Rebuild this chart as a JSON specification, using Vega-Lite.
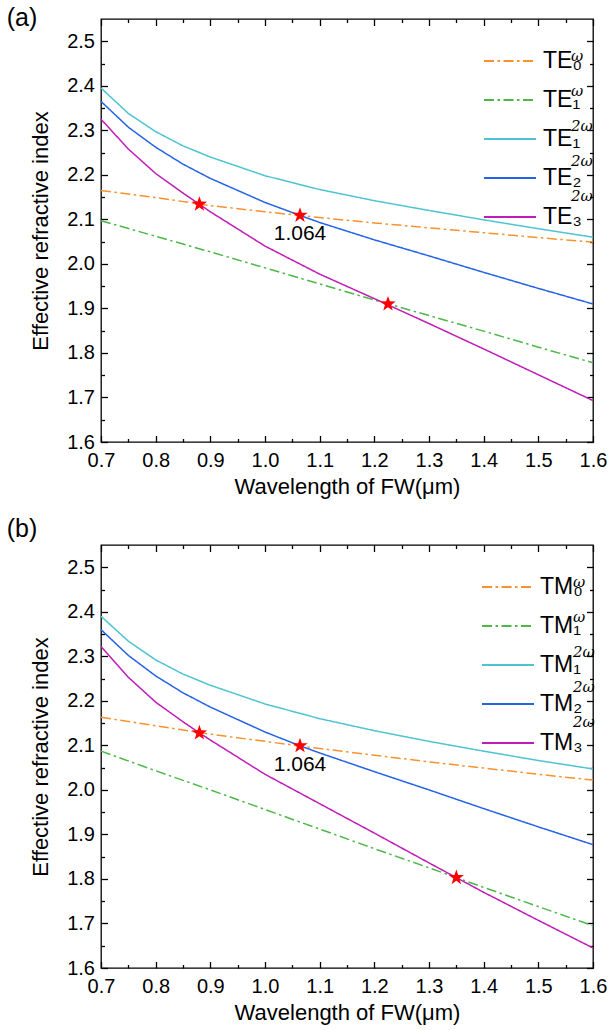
{
  "$schema": "https://vega.github.io/schema/vega-lite/v6.json",
  "padding": {"left": 5, "top": 4, "right": 5, "bottom": 0},
  "datasets": {
    "te": [
      {"series": "TE0w", "lam": 0.7, "n": 2.165}, {"series": "TE0w", "lam": 0.8, "n": 2.149}, {"series": "TE0w", "lam": 0.9, "n": 2.131}, {"series": "TE0w", "lam": 1.0, "n": 2.117}, {"series": "TE0w", "lam": 1.1, "n": 2.104}, {"series": "TE0w", "lam": 1.2, "n": 2.092}, {"series": "TE0w", "lam": 1.3, "n": 2.081}, {"series": "TE0w", "lam": 1.4, "n": 2.070}, {"series": "TE0w", "lam": 1.5, "n": 2.059}, {"series": "TE0w", "lam": 1.6, "n": 2.049},
      {"series": "TE1w", "lam": 0.7, "n": 2.097}, {"series": "TE1w", "lam": 0.8, "n": 2.062}, {"series": "TE1w", "lam": 0.9, "n": 2.027}, {"series": "TE1w", "lam": 1.0, "n": 1.991}, {"series": "TE1w", "lam": 1.1, "n": 1.955}, {"series": "TE1w", "lam": 1.2, "n": 1.919}, {"series": "TE1w", "lam": 1.3, "n": 1.884}, {"series": "TE1w", "lam": 1.4, "n": 1.849}, {"series": "TE1w", "lam": 1.5, "n": 1.813}, {"series": "TE1w", "lam": 1.6, "n": 1.778},
      {"series": "TE1_2w", "lam": 0.7, "n": 2.395}, {"series": "TE1_2w", "lam": 0.75, "n": 2.338}, {"series": "TE1_2w", "lam": 0.8, "n": 2.297}, {"series": "TE1_2w", "lam": 0.85, "n": 2.265}, {"series": "TE1_2w", "lam": 0.9, "n": 2.240}, {"series": "TE1_2w", "lam": 1.0, "n": 2.198}, {"series": "TE1_2w", "lam": 1.1, "n": 2.167}, {"series": "TE1_2w", "lam": 1.2, "n": 2.142}, {"series": "TE1_2w", "lam": 1.3, "n": 2.120}, {"series": "TE1_2w", "lam": 1.4, "n": 2.099}, {"series": "TE1_2w", "lam": 1.5, "n": 2.079}, {"series": "TE1_2w", "lam": 1.6, "n": 2.060},
      {"series": "TE2_2w", "lam": 0.7, "n": 2.365}, {"series": "TE2_2w", "lam": 0.75, "n": 2.307}, {"series": "TE2_2w", "lam": 0.8, "n": 2.262}, {"series": "TE2_2w", "lam": 0.85, "n": 2.224}, {"series": "TE2_2w", "lam": 0.9, "n": 2.192}, {"series": "TE2_2w", "lam": 1.0, "n": 2.138}, {"series": "TE2_2w", "lam": 1.064, "n": 2.109}, {"series": "TE2_2w", "lam": 1.1, "n": 2.093}, {"series": "TE2_2w", "lam": 1.2, "n": 2.054}, {"series": "TE2_2w", "lam": 1.3, "n": 2.018}, {"series": "TE2_2w", "lam": 1.4, "n": 1.981}, {"series": "TE2_2w", "lam": 1.5, "n": 1.945}, {"series": "TE2_2w", "lam": 1.6, "n": 1.910},
      {"series": "TE3_2w", "lam": 0.7, "n": 2.325}, {"series": "TE3_2w", "lam": 0.75, "n": 2.258}, {"series": "TE3_2w", "lam": 0.8, "n": 2.203}, {"series": "TE3_2w", "lam": 0.85, "n": 2.159}, {"series": "TE3_2w", "lam": 0.88, "n": 2.134}, {"series": "TE3_2w", "lam": 0.9, "n": 2.117}, {"series": "TE3_2w", "lam": 1.0, "n": 2.040}, {"series": "TE3_2w", "lam": 1.1, "n": 1.977}, {"series": "TE3_2w", "lam": 1.2, "n": 1.922}, {"series": "TE3_2w", "lam": 1.3, "n": 1.866}, {"series": "TE3_2w", "lam": 1.4, "n": 1.809}, {"series": "TE3_2w", "lam": 1.5, "n": 1.751}, {"series": "TE3_2w", "lam": 1.6, "n": 1.693}
    ],
    "tm": [
      {"series": "TM0w", "lam": 0.7, "n": 2.163}, {"series": "TM0w", "lam": 0.8, "n": 2.144}, {"series": "TM0w", "lam": 0.9, "n": 2.125}, {"series": "TM0w", "lam": 1.0, "n": 2.109}, {"series": "TM0w", "lam": 1.1, "n": 2.093}, {"series": "TM0w", "lam": 1.2, "n": 2.078}, {"series": "TM0w", "lam": 1.3, "n": 2.063}, {"series": "TM0w", "lam": 1.4, "n": 2.049}, {"series": "TM0w", "lam": 1.5, "n": 2.035}, {"series": "TM0w", "lam": 1.6, "n": 2.022},
      {"series": "TM1w", "lam": 0.7, "n": 2.087}, {"series": "TM1w", "lam": 0.8, "n": 2.043}, {"series": "TM1w", "lam": 0.9, "n": 2.000}, {"series": "TM1w", "lam": 1.0, "n": 1.956}, {"series": "TM1w", "lam": 1.1, "n": 1.912}, {"series": "TM1w", "lam": 1.2, "n": 1.868}, {"series": "TM1w", "lam": 1.3, "n": 1.825}, {"series": "TM1w", "lam": 1.4, "n": 1.781}, {"series": "TM1w", "lam": 1.5, "n": 1.738}, {"series": "TM1w", "lam": 1.6, "n": 1.695},
      {"series": "TM1_2w", "lam": 0.7, "n": 2.390}, {"series": "TM1_2w", "lam": 0.75, "n": 2.334}, {"series": "TM1_2w", "lam": 0.8, "n": 2.292}, {"series": "TM1_2w", "lam": 0.85, "n": 2.260}, {"series": "TM1_2w", "lam": 0.9, "n": 2.235}, {"series": "TM1_2w", "lam": 1.0, "n": 2.193}, {"series": "TM1_2w", "lam": 1.1, "n": 2.160}, {"series": "TM1_2w", "lam": 1.2, "n": 2.133}, {"series": "TM1_2w", "lam": 1.3, "n": 2.109}, {"series": "TM1_2w", "lam": 1.4, "n": 2.087}, {"series": "TM1_2w", "lam": 1.5, "n": 2.066}, {"series": "TM1_2w", "lam": 1.6, "n": 2.047},
      {"series": "TM2_2w", "lam": 0.7, "n": 2.360}, {"series": "TM2_2w", "lam": 0.75, "n": 2.302}, {"series": "TM2_2w", "lam": 0.8, "n": 2.256}, {"series": "TM2_2w", "lam": 0.85, "n": 2.218}, {"series": "TM2_2w", "lam": 0.9, "n": 2.186}, {"series": "TM2_2w", "lam": 1.0, "n": 2.130}, {"series": "TM2_2w", "lam": 1.064, "n": 2.099}, {"series": "TM2_2w", "lam": 1.1, "n": 2.083}, {"series": "TM2_2w", "lam": 1.2, "n": 2.041}, {"series": "TM2_2w", "lam": 1.3, "n": 2.000}, {"series": "TM2_2w", "lam": 1.4, "n": 1.958}, {"series": "TM2_2w", "lam": 1.5, "n": 1.917}, {"series": "TM2_2w", "lam": 1.6, "n": 1.877},
      {"series": "TM3_2w", "lam": 0.7, "n": 2.322}, {"series": "TM3_2w", "lam": 0.75, "n": 2.253}, {"series": "TM3_2w", "lam": 0.8, "n": 2.197}, {"series": "TM3_2w", "lam": 0.85, "n": 2.153}, {"series": "TM3_2w", "lam": 0.88, "n": 2.128}, {"series": "TM3_2w", "lam": 0.9, "n": 2.112}, {"series": "TM3_2w", "lam": 1.0, "n": 2.035}, {"series": "TM3_2w", "lam": 1.1, "n": 1.969}, {"series": "TM3_2w", "lam": 1.2, "n": 1.903}, {"series": "TM3_2w", "lam": 1.3, "n": 1.836}, {"series": "TM3_2w", "lam": 1.35, "n": 1.803}, {"series": "TM3_2w", "lam": 1.4, "n": 1.770}, {"series": "TM3_2w", "lam": 1.5, "n": 1.707}, {"series": "TM3_2w", "lam": 1.6, "n": 1.645}
    ],
    "te_s": [
      {"lam": 0.88, "n": 2.134, "label": ""},
      {"lam": 1.064, "n": 2.109, "label": "1.064"},
      {"lam": 1.225, "n": 1.910, "label": ""}
    ],
    "tm_s": [
      {"lam": 0.88, "n": 2.128, "label": ""},
      {"lam": 1.064, "n": 2.099, "label": "1.064"},
      {"lam": 1.35, "n": 1.803, "label": ""}
    ]
  },
  "spacing": 16,
  "resolve": {
    "scale": {"color": "independent", "strokeDash": "independent", "opacity": "independent"},
    "legend": {"color": "independent", "strokeDash": "independent", "opacity": "independent"}
  },
  "vconcat": [
    {
      "width": 492, "height": 423,
      "resolve": {"axis": {"x": "independent", "y": "independent"}},
      "layer": [
        {
          "data": {"name": "te"},
          "transform": [{"filter": "indexof(datum.series, '_2w') < 0"}, {"calculate": "datum.series + '_s'", "as": "sup"}],
          "mark": {"type": "line", "strokeWidth": 1.5},
          "encoding": {
            "x": {"field": "lam", "type": "quantitative", "scale": {"domain": [0.7, 1.6], "nice": false, "zero": false},
                  "axis": {"orient": "bottom", "values": [0.7, 0.8, 0.9, 1.0, 1.1, 1.2, 1.3, 1.4, 1.5, 1.6], "format": ".1f", "labelFlush": false, "tickSize": -6.5, "labelPadding": 15, "title": "Wavelength of FW(μm)", "titlePadding": 6}},
            "y": {"field": "n", "type": "quantitative", "scale": {"domain": [1.6, 2.55], "nice": false, "zero": false},
                  "axis": {"orient": "left", "values": [1.6, 1.7, 1.8, 1.9, 2.0, 2.1, 2.2, 2.3, 2.4, 2.5], "format": ".1f", "labelFlush": false, "tickSize": -6.5, "labelPadding": 13, "title": "Effective refractive index", "titlePadding": 14}},
            "color": {"field": "series", "type": "nominal",
                      "scale": {"domain": ["TE0w", "TE1w", "TE1_2w", "TE2_2w", "TE3_2w"], "range": ["#F7922F", "#4DB848", "#4EC3D2", "#2563E6", "#C11CB6"]},
                      "legend": {"orient": "none", "legendX": 382, "legendY": 15, "title": null, "padding": 0, "symbolType": "stroke", "symbolSize": 2704, "symbolStrokeWidth": 2, "labelFontSize": 23, "labelFont": "Liberation Sans", "labelOffset": 6, "rowPadding": -15.7,
                                 "labelExpr": "datum.label == 'TE0w' ? 'TE₀' : datum.label == 'TE2_2w' ? 'TE₂' : datum.label == 'TE3_2w' ? 'TE₃' : 'TE₁'"}},
            "strokeDash": {"field": "series", "type": "nominal",
                           "scale": {"domain": ["TE0w", "TE1w", "TE1_2w", "TE2_2w", "TE3_2w"], "range": [[10, 3.5, 2.5, 3.5], [10, 3.5, 2.5, 3.5], [1, 0], [1, 0], [1, 0]]}},
            "opacity": {"field": "sup", "type": "nominal",
                        "scale": {"domain": ["TE0w_s", "TE1w_s", "TE1_2w_s", "TE2_2w_s", "TE3_2w_s"], "range": [1, 1]},
                        "legend": {"orient": "none", "legendX": 412, "legendY": 10, "title": null, "padding": 0, "symbolType": "stroke", "symbolSize": 2704, "symbolOpacity": 0, "labelFontSize": 15, "labelFont": "DejaVu Serif", "labelFontStyle": "italic", "labelOffset": 4, "rowPadding": -12.7,
                                   "labelExpr": "indexof(datum.label, '_2w') >= 0 ? '2ω' : 'ω'",
                                   "encode": {"symbols": {"update": {"opacity": {"value": 0}, "strokeOpacity": {"value": 0}}}}}}
          }
        },
        {
          "data": {"name": "te"},
          "transform": [{"filter": "indexof(datum.series, '_2w') >= 0"}, {"calculate": "datum.series + '_s'", "as": "sup"}],
          "mark": {"type": "line", "strokeWidth": 1.5},
          "encoding": {
            "x": {"field": "lam", "type": "quantitative", "scale": {"domain": [0.7, 1.6], "nice": false, "zero": false},
                  "axis": {"orient": "bottom", "values": [0.75, 0.85, 0.95, 1.05, 1.15, 1.25, 1.35, 1.45, 1.55], "labels": false, "tickSize": -3.5, "title": null}},
            "y": {"field": "n", "type": "quantitative", "scale": {"domain": [1.6, 2.55], "nice": false, "zero": false},
                  "axis": {"orient": "left", "values": [1.65, 1.75, 1.85, 1.95, 2.05, 2.15, 2.25, 2.35, 2.45], "labels": false, "tickSize": -3.5, "title": null}},
            "color": {"field": "series", "type": "nominal"},
            "strokeDash": {"field": "series", "type": "nominal"},
            "opacity": {"field": "sup", "type": "nominal"}
          }
        },
        {
          "data": {"name": "te_s"},
          "mark": {"type": "point", "shape": "M0,-1L0.235,-0.324L0.951,-0.309L0.38,0.124L0.588,0.809L0,0.4L-0.588,0.809L-0.38,0.124L-0.951,-0.309L-0.235,-0.324Z", "filled": true, "color": "#FF0000", "size": 260, "opacity": 1, "strokeWidth": 0},
          "encoding": {
            "x": {"field": "lam", "type": "quantitative", "scale": {"domain": [0.7, 1.6], "nice": false, "zero": false},
                  "axis": {"orient": "top", "values": [0.7, 0.8, 0.9, 1.0, 1.1, 1.2, 1.3, 1.4, 1.5, 1.6], "labels": false, "tickSize": -6.5,
                           "title": "(a)", "titleFontSize": 25, "titleX": -79.5, "titleY": -2, "titleAlign": "center", "titleBaseline": "middle", "titleAngle": 0}},
            "y": {"field": "n", "type": "quantitative", "scale": {"domain": [1.6, 2.55], "nice": false, "zero": false},
                  "axis": {"orient": "right", "values": [1.6, 1.7, 1.8, 1.9, 2.0, 2.1, 2.2, 2.3, 2.4, 2.5], "labels": false, "tickSize": -6.5, "title": null}}
          }
        },
        {
          "data": {"name": "te_s"},
          "mark": {"type": "text", "fontSize": 21, "dy": 19, "color": "black", "baseline": "middle"},
          "encoding": {
            "x": {"field": "lam", "type": "quantitative", "scale": {"domain": [0.7, 1.6], "nice": false, "zero": false},
                  "axis": {"orient": "top", "values": [0.75, 0.85, 0.95, 1.05, 1.15, 1.25, 1.35, 1.45, 1.55], "labels": false, "tickSize": -3.5, "title": null}},
            "y": {"field": "n", "type": "quantitative", "scale": {"domain": [1.6, 2.55], "nice": false, "zero": false},
                  "axis": {"orient": "right", "values": [1.65, 1.75, 1.85, 1.95, 2.05, 2.15, 2.25, 2.35, 2.45], "labels": false, "tickSize": -3.5, "title": null}},
            "text": {"field": "label"}
          }
        }
      ]
    },
    {
      "width": 492, "height": 423,
      "resolve": {"axis": {"x": "independent", "y": "independent"}},
      "layer": [
        {
          "data": {"name": "tm"},
          "transform": [{"filter": "indexof(datum.series, '_2w') < 0"}, {"calculate": "datum.series + '_s'", "as": "sup"}],
          "mark": {"type": "line", "strokeWidth": 1.5},
          "encoding": {
            "x": {"field": "lam", "type": "quantitative", "scale": {"domain": [0.7, 1.6], "nice": false, "zero": false},
                  "axis": {"orient": "bottom", "values": [0.7, 0.8, 0.9, 1.0, 1.1, 1.2, 1.3, 1.4, 1.5, 1.6], "format": ".1f", "labelFlush": false, "tickSize": -6.5, "labelPadding": 15, "title": "Wavelength of FW(μm)", "titlePadding": 6}},
            "y": {"field": "n", "type": "quantitative", "scale": {"domain": [1.6, 2.55], "nice": false, "zero": false},
                  "axis": {"orient": "left", "values": [1.6, 1.7, 1.8, 1.9, 2.0, 2.1, 2.2, 2.3, 2.4, 2.5], "format": ".1f", "labelFlush": false, "tickSize": -6.5, "labelPadding": 13, "title": "Effective refractive index", "titlePadding": 14}},
            "color": {"field": "series", "type": "nominal",
                      "scale": {"domain": ["TM0w", "TM1w", "TM1_2w", "TM2_2w", "TM3_2w"], "range": ["#F7922F", "#4DB848", "#4EC3D2", "#2563E6", "#C11CB6"]},
                      "legend": {"orient": "none", "legendX": 380, "legendY": 15, "title": null, "padding": 0, "symbolType": "stroke", "symbolSize": 2704, "symbolStrokeWidth": 2, "labelFontSize": 23, "labelFont": "Liberation Sans", "labelOffset": 5, "rowPadding": -15.7,
                                 "labelExpr": "datum.label == 'TM0w' ? 'TM₀' : datum.label == 'TM2_2w' ? 'TM₂' : datum.label == 'TM3_2w' ? 'TM₃' : 'TM₁'"}},
            "strokeDash": {"field": "series", "type": "nominal",
                           "scale": {"domain": ["TM0w", "TM1w", "TM1_2w", "TM2_2w", "TM3_2w"], "range": [[10, 3.5, 2.5, 3.5], [10, 3.5, 2.5, 3.5], [1, 0], [1, 0], [1, 0]]}},
            "opacity": {"field": "sup", "type": "nominal",
                        "scale": {"domain": ["TM0w_s", "TM1w_s", "TM1_2w_s", "TM2_2w_s", "TM3_2w_s"], "range": [1, 1]},
                        "legend": {"orient": "none", "legendX": 414, "legendY": 10, "title": null, "padding": 0, "symbolType": "stroke", "symbolSize": 2704, "symbolOpacity": 0, "labelFontSize": 15, "labelFont": "DejaVu Serif", "labelFontStyle": "italic", "labelOffset": 4, "rowPadding": -12.7,
                                   "labelExpr": "indexof(datum.label, '_2w') >= 0 ? '2ω' : 'ω'",
                                   "encode": {"symbols": {"update": {"opacity": {"value": 0}, "strokeOpacity": {"value": 0}}}}}}
          }
        },
        {
          "data": {"name": "tm"},
          "transform": [{"filter": "indexof(datum.series, '_2w') >= 0"}, {"calculate": "datum.series + '_s'", "as": "sup"}],
          "mark": {"type": "line", "strokeWidth": 1.5},
          "encoding": {
            "x": {"field": "lam", "type": "quantitative", "scale": {"domain": [0.7, 1.6], "nice": false, "zero": false},
                  "axis": {"orient": "bottom", "values": [0.75, 0.85, 0.95, 1.05, 1.15, 1.25, 1.35, 1.45, 1.55], "labels": false, "tickSize": -3.5, "title": null}},
            "y": {"field": "n", "type": "quantitative", "scale": {"domain": [1.6, 2.55], "nice": false, "zero": false},
                  "axis": {"orient": "left", "values": [1.65, 1.75, 1.85, 1.95, 2.05, 2.15, 2.25, 2.35, 2.45], "labels": false, "tickSize": -3.5, "title": null}},
            "color": {"field": "series", "type": "nominal"},
            "strokeDash": {"field": "series", "type": "nominal"},
            "opacity": {"field": "sup", "type": "nominal"}
          }
        },
        {
          "data": {"name": "tm_s"},
          "mark": {"type": "point", "shape": "M0,-1L0.235,-0.324L0.951,-0.309L0.38,0.124L0.588,0.809L0,0.4L-0.588,0.809L-0.38,0.124L-0.951,-0.309L-0.235,-0.324Z", "filled": true, "color": "#FF0000", "size": 260, "opacity": 1, "strokeWidth": 0},
          "encoding": {
            "x": {"field": "lam", "type": "quantitative", "scale": {"domain": [0.7, 1.6], "nice": false, "zero": false},
                  "axis": {"orient": "top", "values": [0.7, 0.8, 0.9, 1.0, 1.1, 1.2, 1.3, 1.4, 1.5, 1.6], "labels": false, "tickSize": -6.5,
                           "title": "(b)", "titleFontSize": 25, "titleX": -79.5, "titleY": -17, "titleAlign": "center", "titleBaseline": "middle", "titleAngle": 0}},
            "y": {"field": "n", "type": "quantitative", "scale": {"domain": [1.6, 2.55], "nice": false, "zero": false},
                  "axis": {"orient": "right", "values": [1.6, 1.7, 1.8, 1.9, 2.0, 2.1, 2.2, 2.3, 2.4, 2.5], "labels": false, "tickSize": -6.5, "title": null}}
          }
        },
        {
          "data": {"name": "tm_s"},
          "mark": {"type": "text", "fontSize": 21, "dy": 19, "color": "black", "baseline": "middle"},
          "encoding": {
            "x": {"field": "lam", "type": "quantitative", "scale": {"domain": [0.7, 1.6], "nice": false, "zero": false},
                  "axis": {"orient": "top", "values": [0.75, 0.85, 0.95, 1.05, 1.15, 1.25, 1.35, 1.45, 1.55], "labels": false, "tickSize": -3.5, "title": null}},
            "y": {"field": "n", "type": "quantitative", "scale": {"domain": [1.6, 2.55], "nice": false, "zero": false},
                  "axis": {"orient": "right", "values": [1.65, 1.75, 1.85, 1.95, 2.05, 2.15, 2.25, 2.35, 2.45], "labels": false, "tickSize": -3.5, "title": null}},
            "text": {"field": "label"}
          }
        }
      ]
    }
  ],
  "config": {
    "font": "Liberation Sans",
    "view": {"stroke": "black", "strokeWidth": 1.3},
    "axis": {"grid": false, "domain": false, "tickColor": "black", "tickWidth": 1.3, "labelColor": "black", "titleColor": "black",
             "labelFont": "Liberation Sans", "titleFont": "Liberation Sans", "labelFontSize": 20, "titleFontSize": 22, "titleFontWeight": "normal"},
    "legend": {"labelColor": "black"}
  }
}
